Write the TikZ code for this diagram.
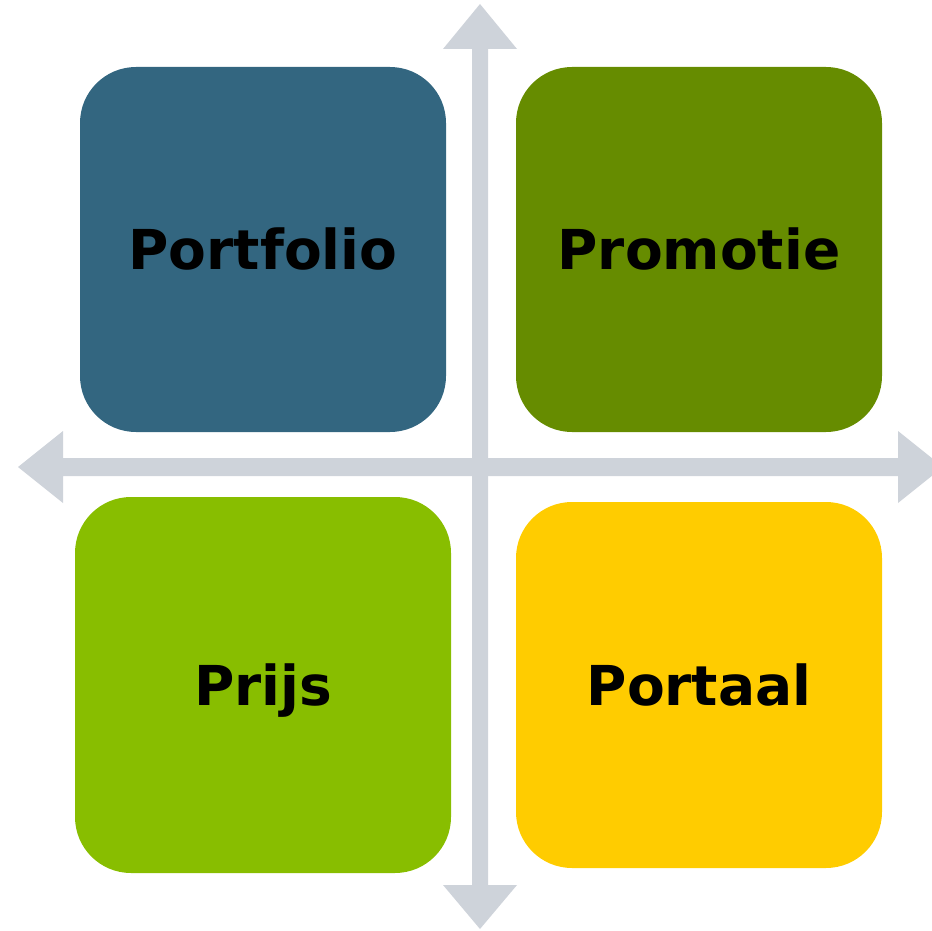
\documentclass[tikz,border=0pt]{standalone}
\usepackage{fontspec}
\setmainfont{DejaVu Sans}
\definecolor{cblue}{HTML}{336680}
\definecolor{cdgreen}{HTML}{668C00}
\definecolor{clgreen}{HTML}{88BE00}
\definecolor{cyellow}{HTML}{FFCC00}
\definecolor{cgray}{HTML}{CED3DA}
\begin{document}
\begin{tikzpicture}[x=1pt,y=-1pt,
  quad/.style={rectangle, rounded corners=56pt, inner sep=0pt,
    font=\bfseries\fontsize{55}{60}\selectfont, text=black,
    text height=40pt, text depth=0pt},
  axis/.style={fill=cgray, draw=none}]
\useasboundingbox (0,0) rectangle (932,931);
% vertical axis
\fill[axis] (480,4) -- (517,49) -- (488,49) -- (488,885) -- (517,885) -- (480,929)
  -- (443,885) -- (472,885) -- (472,49) -- (443,49) -- cycle;
% horizontal axis
\fill[axis] (18,467) -- (63,431) -- (63,458) -- (898,458) -- (898,431) -- (943,467)
  -- (898,503) -- (898,476) -- (63,476) -- (63,503) -- cycle;
\node[quad, fill=cblue, minimum width=366pt, minimum height=365pt] (portfolio) at (263,249.5) {Portfolio};
\node[quad, fill=cdgreen, minimum width=366pt, minimum height=365pt] (promotie) at (699,249.5) {Promotie};
\node[quad, fill=clgreen, minimum width=376pt, minimum height=376pt] (prijs) at (263,685) {Prijs};
\node[quad, fill=cyellow, minimum width=366pt, minimum height=366pt] (portaal) at (699,685) {Portaal};
\end{tikzpicture}
\end{document}
